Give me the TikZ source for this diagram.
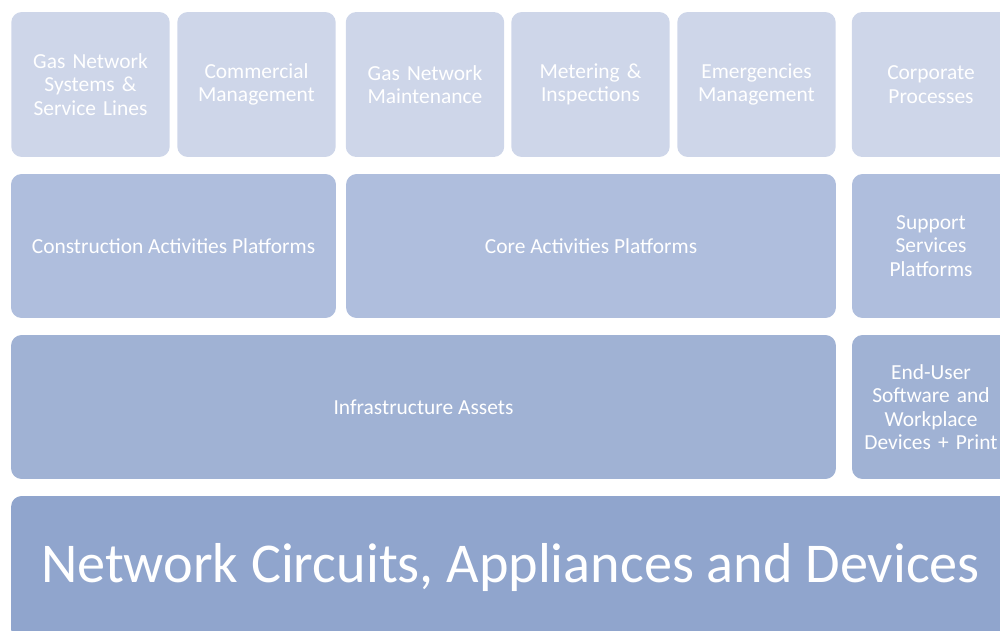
\documentclass[tikz,border=0pt]{standalone}
\usepackage{fontspec}
\setmainfont{Carlito}
\usepackage{tikz}

\definecolor{tierA}{RGB}{206,214,233}
\definecolor{tierB}{RGB}{175,190,221}
\definecolor{tierC}{RGB}{160,178,212}
\definecolor{tierD}{RGB}{144,165,205}

\begin{document}
\begin{tikzpicture}[
  x=0.02cm, y=-0.02cm,
  font=\fontsize{12.2}{13.3}\selectfont,
  block/.style={rounded corners=6pt, inner sep=2pt, text=white, align=center},
  small/.style={block, fill=tierA, minimum width=3.17cm, minimum height=2.9cm, text width=3cm},
  platform/.style={block, fill=tierB, minimum height=2.88cm},
  asset/.style={block, fill=tierC, minimum height=2.88cm}
]

\useasboundingbox (0,0) rectangle (1000,631);

% Business areas (top row)
\node[small] (gas)  at (90.5,84.5)  {Gas Network\\Systems \&\\Service Lines};
\node[small] (com)  at (256.5,84.5) {Commercial\\Management};
\node[small] (mnt)  at (425,84.5)   {Gas Network\\Maintenance};
\node[small] (met)  at (590.5,84.5) {Metering \&\\Inspections};
\node[small] (emg)  at (756.5,84.5) {Emergencies\\Management};
\node[small] (corp) at (931,84.5)   {Corporate\\Processes};

% Platforms
\node[platform, minimum width=6.5cm] (cons) at (173.5,246) {Construction Activities Platforms};
\node[platform, minimum width=9.8cm] (core) at (591,246) {Core Activities Platforms};
\node[platform, minimum width=3.16cm, text width=3cm] (supp) at (931,246) {Support\\Services\\Platforms};

% Assets
\node[asset, minimum width=16.5cm] (infra) at (423.5,407) {Infrastructure Assets};
\node[asset, minimum width=3.16cm, text width=3cm] (user) at (931,407) {End-User\\Software and\\Workplace\\Devices + Print};

% Network layer
\node[block, fill=tierD, minimum width=19.98cm, minimum height=2.88cm,
      font=\fontsize{32}{38}\selectfont] (net) at (510.5,568)
  {Network Circuits, Appliances and Devices};

\end{tikzpicture}
\end{document}
